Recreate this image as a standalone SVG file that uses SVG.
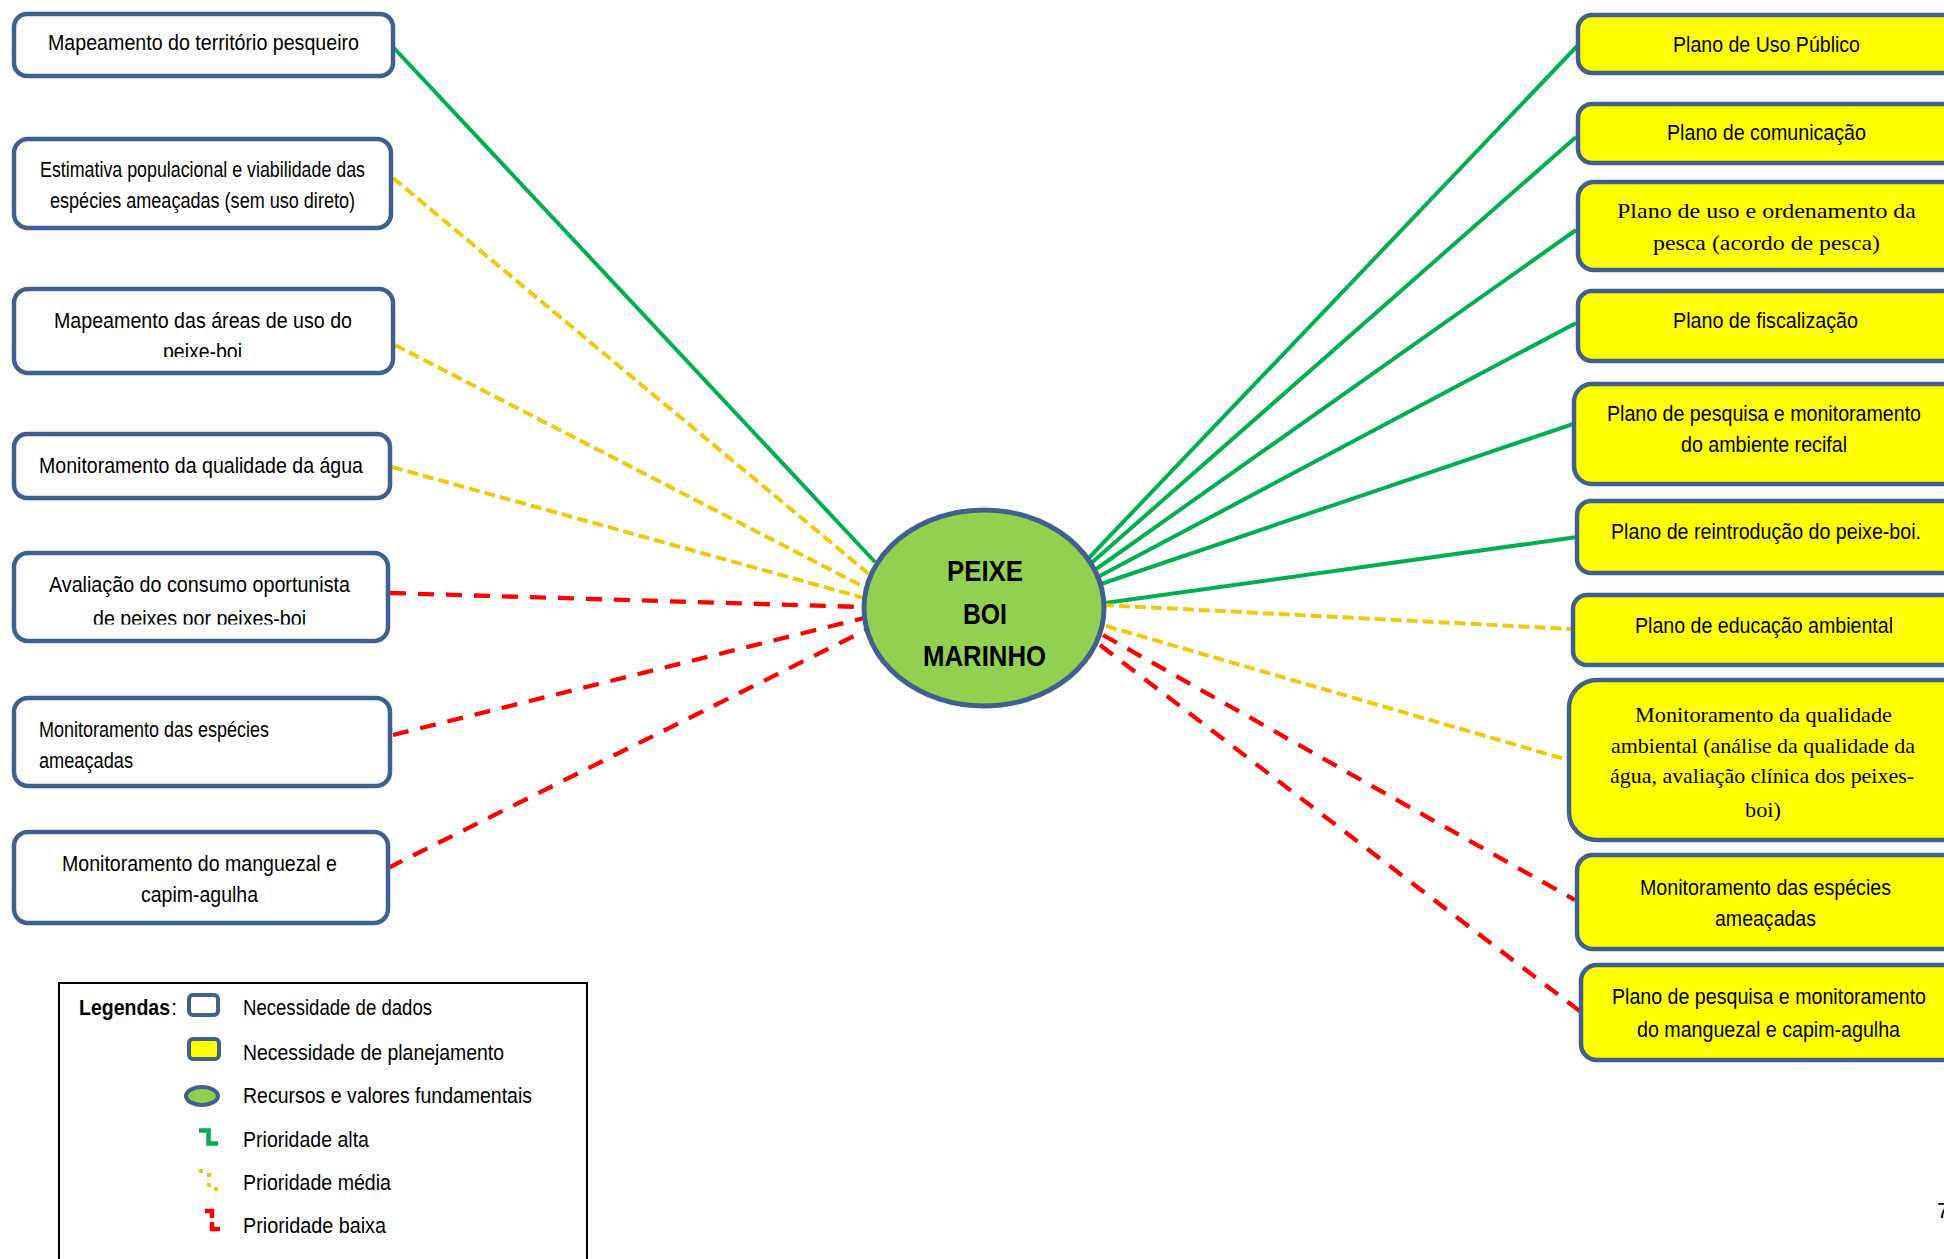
<svg xmlns="http://www.w3.org/2000/svg" width="1944" height="1259" viewBox="0 0 1944 1259">
<defs>
<style>
.dbox{fill:#ffffff;stroke:#40608f;stroke-width:4.5}
.pbox{fill:#ffff00;stroke:#40608f;stroke-width:4.5}
.t{font-family:"Liberation Sans",Arial,sans-serif;font-size:22px;fill:#000}
.s{font-family:"Liberation Serif","Times New Roman",serif;font-size:22px;fill:#000}
.c{font-family:"Liberation Sans",Arial,sans-serif;font-size:30px;font-weight:bold;fill:#000}
.g{stroke:#00b050;stroke-width:4;fill:none}
.y{stroke:#f2c80c;stroke-width:4;fill:none;stroke-dasharray:11 5}
.r{stroke:#ff0000;stroke-width:4.3;fill:none;stroke-dasharray:16 12}
</style>
<clipPath id="clip3"><rect x="0" y="0" width="420" height="357"/></clipPath>
<clipPath id="clip5"><rect x="0" y="0" width="420" height="624.5"/></clipPath>
</defs>
<rect width="1944" height="1259" fill="#ffffff"/>

<g id="connectors">
<line class="g" x1="393" y1="47" x2="875" y2="562"/>
<line class="y" x1="393" y1="178" x2="870" y2="575"/>
<line class="y" x1="395" y1="345" x2="866" y2="588"/>
<line class="y" x1="392" y1="467" x2="864" y2="598"/>
<line class="r" x1="390" y1="593" x2="863" y2="607"/>
<line class="r" x1="393" y1="735" x2="864" y2="618"/>
<line class="r" x1="388" y1="868" x2="866" y2="630"/>
<line class="g" x1="1085" y1="562" x2="1581" y2="42"/>
<line class="g" x1="1088" y1="566" x2="1576" y2="137"/>
<line class="g" x1="1092" y1="572" x2="1576" y2="230"/>
<line class="g" x1="1096" y1="578" x2="1576" y2="323"/>
<line class="g" x1="1098" y1="585" x2="1576" y2="423"/>
<line class="g" x1="1105" y1="603" x2="1577" y2="537"/>
<line class="y" x1="1103" y1="605" x2="1572" y2="629"/>
<line class="y" x1="1106" y1="626" x2="1568" y2="760"/>
<line class="r" x1="1103" y1="635" x2="1575" y2="900"/>
<line class="r" x1="1100" y1="645" x2="1581" y2="1012"/>
</g>

<g id="center">
<ellipse cx="984" cy="608" rx="120" ry="98" fill="#92d050" stroke="#40608f" stroke-width="5"/>
<text class="c" x="947" y="581" textLength="76" lengthAdjust="spacingAndGlyphs">PEIXE</text>
<text class="c" x="963" y="624" textLength="44" lengthAdjust="spacingAndGlyphs">BOI</text>
<text class="c" x="923" y="666" textLength="123" lengthAdjust="spacingAndGlyphs">MARINHO</text>
</g>

<g id="b1">
<rect class="dbox" x="14" y="14" width="379" height="62" rx="13"/>
<text class="t" x="48" y="50" textLength="311" lengthAdjust="spacingAndGlyphs">Mapeamento do território pesqueiro</text>
</g>
<g id="b2">
<rect class="dbox" x="14" y="139" width="377" height="89" rx="14"/>
<text class="t" x="40" y="177" font-size="21" textLength="325" lengthAdjust="spacingAndGlyphs">Estimativa populacional e viabilidade das</text>
<text class="t" x="50" y="208" font-size="21" textLength="305" lengthAdjust="spacingAndGlyphs">espécies ameaçadas (sem uso direto)</text>
</g>
<g id="b3">
<rect class="dbox" x="14" y="289" width="379" height="84" rx="14"/>
<text class="t" x="54" y="328" textLength="298" lengthAdjust="spacingAndGlyphs">Mapeamento das áreas de uso do</text>
<text class="t" x="163" y="359" textLength="79" lengthAdjust="spacingAndGlyphs" clip-path="url(#clip3)">peixe-boi</text>
</g>
<g id="b4">
<rect class="dbox" x="14" y="434" width="376" height="64" rx="13"/>
<text class="t" x="39" y="473" textLength="324" lengthAdjust="spacingAndGlyphs">Monitoramento da qualidade da água</text>
</g>
<g id="b5">
<rect class="dbox" x="14" y="553" width="374" height="88" rx="14"/>
<text class="t" x="49" y="592" textLength="301" lengthAdjust="spacingAndGlyphs">Avaliação do consumo oportunista</text>
<text class="t" x="93" y="626" textLength="213" lengthAdjust="spacingAndGlyphs" clip-path="url(#clip5)">de peixes por peixes-boi</text>
</g>
<g id="b6">
<rect class="dbox" x="14" y="698" width="376" height="88" rx="14"/>
<text class="t" x="39" y="737" textLength="230" lengthAdjust="spacingAndGlyphs">Monitoramento das espécies</text>
<text class="t" x="39" y="768" textLength="94" lengthAdjust="spacingAndGlyphs">ameaçadas</text>
</g>
<g id="b7">
<rect class="dbox" x="14" y="832" width="374" height="91" rx="14"/>
<text class="t" x="62" y="871" textLength="275" lengthAdjust="spacingAndGlyphs">Monitoramento do manguezal e</text>
<text class="t" x="141" y="902" textLength="117" lengthAdjust="spacingAndGlyphs">capim-agulha</text>
</g>

<g id="r1">
<rect class="pbox" x="1578" y="15" width="420" height="58" rx="14"/>
<text class="t" x="1673" y="52" textLength="187" lengthAdjust="spacingAndGlyphs">Plano de Uso Público</text>
</g>
<g id="r2">
<rect class="pbox" x="1578" y="104" width="420" height="59" rx="14"/>
<text class="t" x="1667" y="140" textLength="199" lengthAdjust="spacingAndGlyphs">Plano de comunicação</text>
</g>
<g id="r3">
<rect class="pbox" x="1578" y="182" width="420" height="88" rx="16"/>
<text class="s" x="1617" y="218" textLength="299" lengthAdjust="spacingAndGlyphs">Plano de uso e ordenamento da</text>
<text class="s" x="1653" y="250" textLength="227" lengthAdjust="spacingAndGlyphs">pesca (acordo de pesca)</text>
</g>
<g id="r4">
<rect class="pbox" x="1578" y="291" width="420" height="70" rx="14"/>
<text class="t" x="1673" y="328" textLength="185" lengthAdjust="spacingAndGlyphs">Plano de fiscalização</text>
</g>
<g id="r5">
<rect class="pbox" x="1574" y="384" width="420" height="100" rx="18"/>
<text class="t" x="1607" y="421" textLength="314" lengthAdjust="spacingAndGlyphs">Plano de pesquisa e monitoramento</text>
<text class="t" x="1681" y="452" textLength="166" lengthAdjust="spacingAndGlyphs">do ambiente recifal</text>
</g>
<g id="r6">
<rect class="pbox" x="1577" y="501" width="420" height="72" rx="14"/>
<text class="t" x="1611" y="539" textLength="310" lengthAdjust="spacingAndGlyphs">Plano de reintrodução do peixe-boi.</text>
</g>
<g id="r7">
<rect class="pbox" x="1573" y="595" width="420" height="70" rx="14"/>
<text class="t" x="1635" y="633" textLength="258" lengthAdjust="spacingAndGlyphs">Plano de educação ambiental</text>
</g>
<g id="r8">
<rect class="pbox" x="1569" y="680" width="420" height="160" rx="28"/>
<text class="s" x="1635" y="722" font-size="21" textLength="257" lengthAdjust="spacingAndGlyphs">Monitoramento da qualidade</text>
<text class="s" x="1611" y="753" font-size="21" textLength="304" lengthAdjust="spacingAndGlyphs">ambiental (análise da qualidade da</text>
<text class="s" x="1610" y="783" font-size="21" textLength="304" lengthAdjust="spacingAndGlyphs">água, avaliação clínica dos peixes-</text>
<text class="s" x="1745" y="817" font-size="21" textLength="36" lengthAdjust="spacingAndGlyphs">boi)</text>
</g>
<g id="r9">
<rect class="pbox" x="1577" y="855" width="420" height="94" rx="16"/>
<text class="t" x="1640" y="895" textLength="251" lengthAdjust="spacingAndGlyphs">Monitoramento das espécies</text>
<text class="t" x="1715" y="926" textLength="101" lengthAdjust="spacingAndGlyphs">ameaçadas</text>
</g>
<g id="r10">
<rect class="pbox" x="1581" y="965" width="420" height="95" rx="16"/>
<text class="t" x="1612" y="1004" textLength="314" lengthAdjust="spacingAndGlyphs">Plano de pesquisa e monitoramento</text>
<text class="t" x="1637" y="1037" textLength="263" lengthAdjust="spacingAndGlyphs">do manguezal e capim-agulha</text>
</g>

<g id="legend">
<rect x="59" y="983" width="528" height="300" fill="none" stroke="#000" stroke-width="2"/>
<text class="t" x="79" y="1015" font-weight="bold" textLength="91" lengthAdjust="spacingAndGlyphs">Legendas</text>
<text class="t" x="171" y="1015">:</text>
<rect x="189" y="995" width="29" height="20" rx="4" fill="#ffffff" stroke="#40608f" stroke-width="4"/>
<rect x="189" y="1039" width="30" height="20" rx="4" fill="#ffff00" stroke="#40608f" stroke-width="4"/>
<ellipse cx="202" cy="1096" rx="16" ry="9" fill="#92d050" stroke="#40608f" stroke-width="4"/>
<path d="M199,1130.5 H208.5 V1143.5 H218" fill="none" stroke="#00b050" stroke-width="4.5"/>
<rect x="199" y="1169" width="4" height="4" fill="#ffc000"/>
<rect x="207" y="1173" width="4" height="4" fill="#ffc000"/>
<rect x="207" y="1183" width="4" height="4" fill="#ffc000"/>
<rect x="214" y="1187" width="4" height="4" fill="#ffc000"/>
<path d="M205,1211 H212 V1218 M212,1222 V1229 H220" fill="none" stroke="#ff0000" stroke-width="4.5"/>
<text class="t" x="243" y="1015" textLength="189" lengthAdjust="spacingAndGlyphs">Necessidade de dados</text>
<text class="t" x="243" y="1060" textLength="261" lengthAdjust="spacingAndGlyphs">Necessidade de planejamento</text>
<text class="t" x="243" y="1103" textLength="289" lengthAdjust="spacingAndGlyphs">Recursos e valores fundamentais</text>
<text class="t" x="243" y="1147" textLength="126" lengthAdjust="spacingAndGlyphs">Prioridade alta</text>
<text class="t" x="243" y="1190" textLength="148" lengthAdjust="spacingAndGlyphs">Prioridade média</text>
<text class="t" x="243" y="1233" textLength="143" lengthAdjust="spacingAndGlyphs">Prioridade baixa</text>
</g>

<text class="t" x="1937" y="1218" font-size="24">7</text>
</svg>
